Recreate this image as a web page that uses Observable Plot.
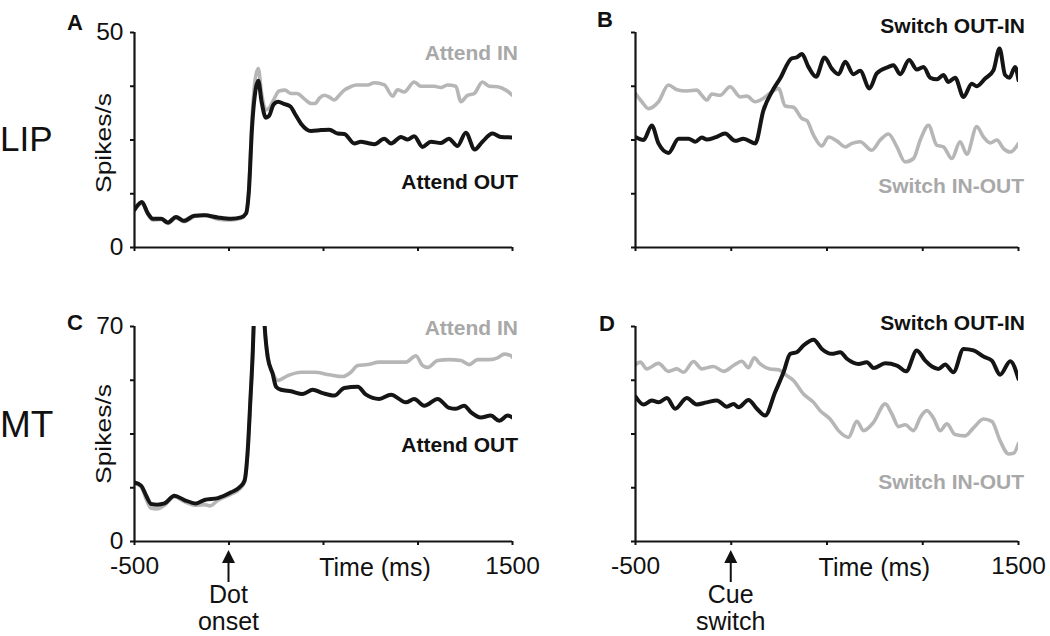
<!DOCTYPE html>
<html><head><meta charset="utf-8">
<script src="https://cdn.jsdelivr.net/npm/d3@7"></script>
<script src="https://cdn.jsdelivr.net/npm/@observablehq/plot@0.6"></script>
<style>
body{margin:0;background:#fff;}
#fig{position:relative;width:1050px;height:636px;overflow:hidden;background:#fff;}
.p{position:absolute;}
#ov{position:absolute;left:0;top:0;}
</style></head><body><div id="fig"></div>
<script>
// ---------- data: [time (ms), spikes/s] ----------
const timeTicks = [-500, 0, 500, 1000, 1500];
const lipTicks = [0, 12.5, 25, 37.5, 50];
const mtTicks = [0, 17.5, 35, 52.5, 70];
const lipTickLabels = [0, 50];
const mtTickLabels = [0, 70];
const timeTickLabels = [-500, 1500];

const lipAttendOut = [[-500,8.8],[-461,10.6],[-430,8.0],[-403,6.7],[-359,6.7],[-324,5.8],[-280,7.1],[-239,6.2],[-183,7.4],[-130,7.5],[-59,7.0],[11,6.7],[64,7.0],[90,7.9],[105,13],[122,28],[140,36.5],[155,38.8],[172,34],[195,30.2],[212,30.6],[235,33.2],[260,33.9],[290,33.4],[325,32.8],[350,31.0],[381,28.8],[434,27.1],[487,27.3],[531,27.4],[575,26.5],[610,26.4],[663,24.2],[698,24.6],[733,24.3],[769,24.0],[822,25.3],[857,24.2],[910,25.7],[945,25.1],[980,25.9],[1024,23.4],[1068,24.6],[1121,24.3],[1163,25.3],[1209,23.6],[1253,26.7],[1300,22.8],[1341,24.6],[1394,26.5],[1438,25.7],[1500,25.6]];
const lipAttendIn = [[-500,8.6],[-461,10.3],[-430,7.8],[-403,6.4],[-359,6.5],[-324,5.6],[-280,6.9],[-239,6.0],[-183,7.2],[-130,7.6],[-59,6.6],[11,6.4],[64,6.8],[90,8.0],[105,13.5],[122,30],[140,39.5],[155,41.6],[172,36],[195,32],[215,32.6],[238,34.5],[265,36.4],[296,36.6],[328,35.8],[360,35.8],[400,34.5],[434,33.5],[455,33.5],[480,34.8],[504,35.4],[530,35.0],[557,34.3],[585,35.5],[610,36.6],[640,37.3],[672,37.8],[733,37.8],[769,38.3],[822,37.8],[866,35.2],[892,36.7],[927,36.2],[980,38.5],[1015,37.5],[1086,37.5],[1121,37.2],[1156,37.8],[1200,37.5],[1227,33.9],[1262,35.4],[1297,35.8],[1341,38.5],[1377,37.5],[1421,37.4],[1465,36.6],[1500,35.4]];
const lipSwitchOutIn = [[-500,25.7],[-458,25.0],[-415,28.4],[-380,24.2],[-328,22.0],[-275,25.3],[-223,25.3],[-188,24.6],[-154,25.6],[-128,25.1],[-84,25.6],[-32,26.5],[20,24.8],[64,25.3],[125,24.2],[168,31.9],[212,36.2],[255,39.3],[316,44.0],[342,44.2],[369,45.0],[403,42.0],[443,39.7],[487,44.2],[525,41.6],[560,40.3],[595,43.2],[638,40.3],[673,41.1],[722,37.0],[760,40.5],[821,42.0],[847,42.4],[882,40.3],[929,43.6],[969,41.4],[1004,42.0],[1039,39.5],[1073,39.1],[1108,40.1],[1134,38.5],[1169,39.5],[1213,35.0],[1256,38.1],[1282,37.5],[1326,39.3],[1369,41.2],[1401,46.3],[1430,40.1],[1453,39.5],[1482,42.0],[1500,38.9]];
const lipSwitchInOut = [[-500,35.8],[-467,33.9],[-432,32.3],[-380,33.9],[-328,37.8],[-284,36.7],[-232,36.4],[-180,36.6],[-154,35.4],[-128,34.3],[-101,35.7],[-58,35.4],[-6,37.4],[47,35.0],[81,35.2],[125,33.9],[168,34.7],[212,36.2],[247,37.0],[282,32.9],[325,32.6],[369,30.0],[395,29.5],[430,26.1],[473,23.6],[508,25.7],[551,24.8],[595,23.4],[630,24.2],[673,24.6],[734,22.6],[778,25.0],[821,26.4],[865,23.4],[908,19.9],[952,20.7],[987,25.0],[1030,28.4],[1073,23.8],[1108,23.4],[1152,20.7],[1195,24.6],[1230,21.7],[1282,28.1],[1317,25.7],[1352,24.3],[1387,25.0],[1422,23.0],[1457,22.2],[1500,24.2]];
const mtAttendOut = [[-500,19.2],[-465,18.2],[-438,14.9],[-412,12.2],[-380,12.0],[-341,12.4],[-289,14.9],[-236,13.5],[-174,12.4],[-130,13.5],[-59,14.1],[11,16.0],[55,17.6],[82,19.8],[99,29.6],[113,45.9],[126,62.2],[133,75],[150,100],[170,100],[187,72],[205,60],[231,54.6],[249,50.4],[275,49.4],[328,48.9],[390,48.0],[443,49.4],[496,48.3],[557,47.5],[610,50.0],[681,50.4],[725,47.8],[795,46.4],[857,47.8],[936,45.3],[980,46.4],[1033,44.2],[1104,46.4],[1165,43.5],[1200,43.2],[1244,44.2],[1280,42.1],[1333,40.4],[1385,41.0],[1430,39.3],[1474,41.0],[1500,40.4]];
const mtAttendIn = [[-500,19.0],[-465,17.8],[-438,13.8],[-412,10.8],[-380,10.6],[-341,11.8],[-289,14.6],[-236,13.0],[-174,11.8],[-130,12.0],[-100,11.6],[-59,13.4],[11,15.4],[55,17.0],[82,19.3],[99,29],[113,45.5],[126,62],[133,75],[150,100],[170,100],[187,72],[205,60],[231,55],[258,52.4],[311,54.0],[381,55.1],[451,55.1],[531,54.3],[601,53.7],[645,55.1],[681,57.3],[734,57.6],[795,58.4],[874,58.4],[936,58.4],[989,60.5],[1024,57.3],[1051,56.7],[1104,58.9],[1165,59.2],[1227,58.9],[1271,57.6],[1315,59.2],[1377,59.2],[1421,59.8],[1456,61.0],[1491,60.5],[1500,60.0]];
const mtSwitchOutIn = [[-500,47.2],[-458,44.6],[-415,45.9],[-380,45.3],[-336,46.7],[-293,43.2],[-232,46.7],[-180,44.6],[-128,45.3],[-75,45.9],[-23,43.9],[12,44.8],[38,43.7],[90,46.1],[134,43.2],[177,41.0],[229,48.6],[273,55.1],[308,61.1],[342,61.6],[377,63.8],[430,65.7],[473,62.7],[525,61.1],[569,61.6],[604,59.5],[665,57.8],[708,58.4],[743,56.5],[804,58.0],[865,57.3],[913,55.4],[969,62.2],[1013,58.9],[1048,57.0],[1082,56.2],[1117,57.6],[1160,55.1],[1213,62.7],[1265,62.2],[1317,60.2],[1361,58.9],[1404,54.3],[1457,58.7],[1500,52.9]];
const mtSwitchInOut = [[-500,57.6],[-475,58.4],[-441,56.2],[-380,58.0],[-328,55.4],[-284,56.2],[-249,55.1],[-197,58.6],[-154,56.2],[-93,57.0],[-40,55.4],[12,57.3],[55,58.7],[90,56.6],[120,59.8],[151,57.8],[203,56.2],[247,55.9],[290,54.0],[325,52.4],[377,48.0],[430,45.3],[464,42.6],[516,39.9],[560,36.1],[612,33.9],[656,39.1],[691,36.1],[743,38.8],[804,44.8],[839,41.5],[874,37.4],[908,38.0],[952,36.1],[987,40.4],[1021,42.6],[1056,40.2],[1091,36.1],[1126,38.3],[1169,34.8],[1221,34.4],[1265,37.0],[1317,39.9],[1361,39.1],[1404,32.8],[1448,28.5],[1474,28.7],[1500,32.0]];

// ---------- styling ----------
const FONT = "'Liberation Sans', Arial, Helvetica, sans-serif";
const BLACK = "#151515", GRAY = "#b6b6b6", GRAYTXT = "#a8a8a8";

function panel({gray, black, yMax, yTicks, yLabels, xLabels, width, height, mL, mR, mT, mB}) {
  return Plot.plot({
    width, height,
    marginLeft: mL, marginRight: mR, marginTop: mT, marginBottom: mB,
    x: {domain: [-500, 1500]},
    y: {domain: [0, yMax]},
    style: {fontFamily: FONT, fontSize: "24.5px", color: "#111", background: "transparent", overflow: "visible"},
    marks: [
      Plot.line(gray, {x: d => d[0], y: d => d[1], stroke: GRAY, strokeWidth: 3.6, curve: "monotone-x", clip: true}),
      Plot.line(black, {x: d => d[0], y: d => d[1], stroke: BLACK, strokeWidth: 4, curve: "monotone-x", clip: true}),
      Plot.ruleX([-500], {stroke: BLACK, strokeWidth: 2.2}),
      Plot.ruleY([0], {stroke: BLACK, strokeWidth: 2.2}),
      Plot.axisY({ticks: yTicks, tickSize: 4, tickPadding: 7, strokeWidth: 2, label: null,
        tickFormat: d => yLabels.includes(d) ? String(d) : ""}),
      Plot.axisX({ticks: timeTicks, tickSize: 4, tickPadding: 11, strokeWidth: 2, label: null,
        tickFormat: d => xLabels.includes(d) ? String(d) : ""})
    ]
  });
}

const fig = document.getElementById("fig");
function place(node, left, top) {
  const d = document.createElement("div");
  d.className = "p"; d.style.left = left + "px"; d.style.top = top + "px";
  d.appendChild(node); fig.appendChild(d); return node;
}

const pA = place(panel({gray: lipAttendIn, black: lipAttendOut, yMax: 50, yTicks: lipTicks, yLabels: lipTickLabels, xLabels: [],
  width: 530, height: 270, mL: 134, mR: 18, mT: 32, mB: 23}), 0, 0);
const pB = place(panel({gray: lipSwitchInOut, black: lipSwitchOutIn, yMax: 50, yTicks: lipTicks, yLabels: [], xLabels: [],
  width: 520, height: 270, mL: 105, mR: 32, mT: 32, mB: 23}), 530, 0);
const pC = place(panel({gray: mtAttendIn, black: mtAttendOut, yMax: 70, yTicks: mtTicks, yLabels: mtTickLabels, xLabels: timeTickLabels,
  width: 530, height: 336, mL: 134, mR: 18, mT: 26, mB: 95}), 0, 300);
const pD = place(panel({gray: mtSwitchInOut, black: mtSwitchOutIn, yMax: 70, yTicks: mtTicks, yLabels: [], xLabels: timeTickLabels,
  width: 520, height: 336, mL: 105, mR: 32, mT: 26, mB: 95}), 530, 300);

// ---------- annotations overlay ----------
const svg = d3.select(fig).append("svg").attr("id", "ov").attr("width", 1050).attr("height", 636)
  .style("font-family", FONT);

function txt(s, x, y, {size = 25, weight = "normal", fill = "#111", anchor = "start"} = {}) {
  return svg.append("text").attr("x", x).attr("y", y).attr("font-size", size).attr("font-weight", weight)
    .attr("fill", fill).attr("text-anchor", anchor).text(s);
}
const B = {size: 21, weight: "bold"};
txt("A", 67, 30, {size: 22, weight: "bold"});
txt("B", 597, 27, {size: 22, weight: "bold"});
txt("C", 67, 330, {size: 22, weight: "bold"});
txt("D", 599, 331, {size: 22, weight: "bold"});
txt("LIP", 0, 151, {size: 35});
txt("MT", 0, 437, {size: 37});
txt("Attend IN", 518, 60, {...B, fill: GRAYTXT, anchor: "end"});
txt("Attend OUT", 518, 189, {...B, anchor: "end"});
txt("Switch OUT-IN", 1025, 33, {...B, anchor: "end"});
txt("Switch IN-OUT", 1024, 193, {...B, fill: GRAYTXT, anchor: "end"});
txt("Attend IN", 518, 335, {...B, fill: GRAYTXT, anchor: "end"});
txt("Attend OUT", 518, 452, {...B, anchor: "end"});
txt("Switch OUT-IN", 1025, 330, {...B, anchor: "end"});
txt("Switch IN-OUT", 1024, 489, {...B, fill: GRAYTXT, anchor: "end"});

txt("Time (ms)", pC.scale("x").apply(775), 576, {anchor: "middle"});
txt("Time (ms)", 530 + pD.scale("x").apply(750), 576, {anchor: "middle"});

for (const cy of [143, 434]) {
  svg.append("text").attr("transform", `translate(103.5,${cy}) rotate(-90)`)
    .attr("text-anchor", "middle").attr("dominant-baseline", "central")
    .attr("font-size", 21.5).attr("fill", "#111")
    .attr("textLength", 100).attr("lengthAdjust", "spacingAndGlyphs").text("Spikes/s");
}

function arrow(x) {
  svg.append("line").attr("x1", x).attr("x2", x).attr("y1", 561).attr("y2", 582).attr("stroke", "#111").attr("stroke-width", 2);
  svg.append("path").attr("d", `M${x},550 L${x - 6.5},563 L${x + 6.5},563 Z`).attr("fill", "#111");
}
const a0C = pC.scale("x").apply(0), a0D = 530 + pD.scale("x").apply(0);
arrow(a0C); arrow(a0D);
txt("Dot", a0C, 603, {anchor: "middle"});
txt("onset", a0C, 630, {anchor: "middle"});
txt("Cue", a0D, 603, {anchor: "middle"});
txt("switch", a0D, 630, {anchor: "middle"});
</script></body></html>
